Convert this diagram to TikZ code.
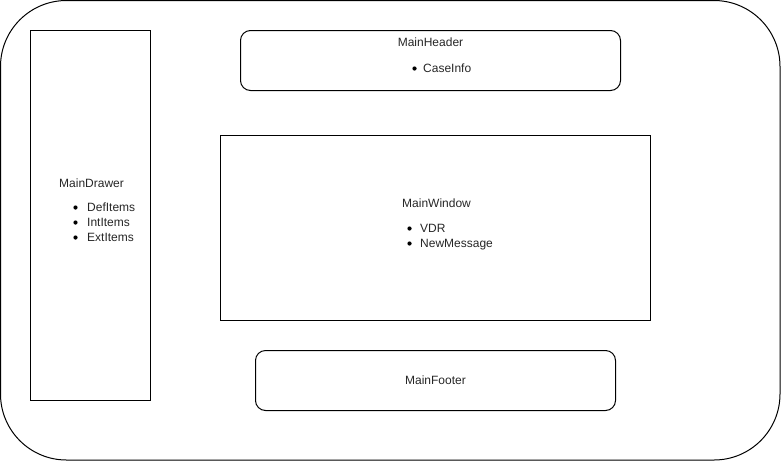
\documentclass[tikz,border=0pt]{standalone}
\usepackage{fontspec}
\setmainfont{Liberation Sans}
\begin{document}
\begin{tikzpicture}[x=1pt,y=-1pt,
  box/.style={draw=black,line width=1pt},
  lbl/.style={inner sep=0pt,anchor=base west,font=\fontsize{12}{14}\selectfont,text=black!85},
  bul/.style={circle,fill=black,inner sep=0pt,minimum size=4.2pt}]
\useasboundingbox (0,0) rectangle (781,461);
\draw[box,rounded corners=66pt] (0.5,0.5) rectangle (780,460);
% MainDrawer
\draw[box] (30.5,30.5) rectangle (150.5,400.5);
\node[lbl] (dtitle) at (59,187) {MainDrawer};
\node[bul] (b1) at (75.5,207.5) {};
\node[lbl] (d1) at (87,211.5) {DefItems};
\node[bul] (b2) at (75.5,222.5) {};
\node[lbl] (d2) at (87,226.5) {IntItems};
\node[bul] (b3) at (75.5,237.5) {};
\node[lbl] (d3) at (87,241.5) {ExtItems};
% MainHeader
\draw[box,rounded corners=10pt] (240.5,30.5) rectangle (620.5,90.5);
\node[lbl,anchor=base] (htitle) at (430.5,46.5) {MainHeader};
\node[bul] (b4) at (414.5,68.5) {};
\node[lbl] (h1) at (423,72.5) {CaseInfo};
% MainWindow
\draw[box] (220.5,135.5) rectangle (650.5,320.5);
\node[lbl] (wtitle) at (402,207) {MainWindow};
\node[bul] (b5) at (409.5,228.5) {};
\node[lbl] (w1) at (420,232.5) {VDR};
\node[bul] (b6) at (409.5,243.5) {};
\node[lbl] (w2) at (420,247.5) {NewMessage};
% MainFooter
\draw[box,rounded corners=10pt] (255.5,350.5) rectangle (615.5,410.5);
\node[lbl,anchor=base] (ftitle) at (435.5,384.5) {MainFooter};
\end{tikzpicture}
\end{document}
